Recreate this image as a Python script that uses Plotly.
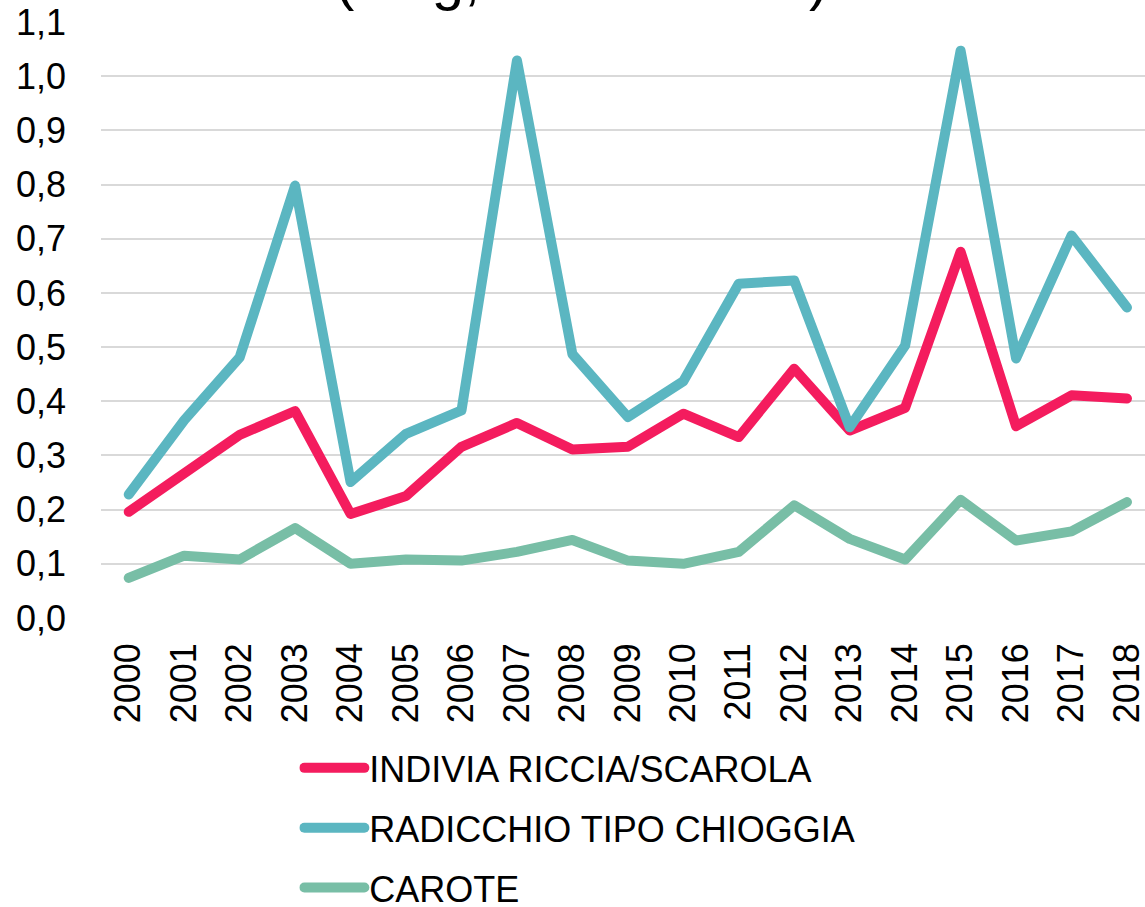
import plotly.graph_objects as go

years = [str(y) for y in range(2000, 2019)]
indivia = [0.196, 0.268, 0.338, 0.382, 0.192, 0.225, 0.316, 0.360, 0.311, 0.316,
           0.377, 0.334, 0.460, 0.346, 0.388, 0.676, 0.354, 0.411, 0.405]
radicchio = [0.228, 0.365, 0.481, 0.798, 0.251, 0.340, 0.383, 1.029, 0.487, 0.371,
             0.437, 0.617, 0.623, 0.352, 0.503, 1.047, 0.479, 0.706, 0.573]
carote = [0.074, 0.115, 0.108, 0.166, 0.100, 0.108, 0.106, 0.122, 0.144, 0.106,
          0.100, 0.122, 0.208, 0.146, 0.108, 0.218, 0.143, 0.160, 0.214]

series_names = ["INDIVIA RICCIA/SCAROLA", "RADICCHIO TIPO CHIOGGIA", "CAROTE"]
series_values = [indivia, radicchio, carote]
colors = ["#F41C5E", "#5BB6C1", "#78BEA6"]
title_text = "(€/kg, f.co azienda)"

FONT = "Liberation Sans"

fig = go.Figure()
for name, vals, col in zip(series_names, series_values, colors):
    fig.add_trace(go.Scatter(
        x=years, y=vals, name=name, mode="lines",
        line=dict(color=col, width=10),
        legendgroup=name,
    ))

fig.update_layout(
    width=1145, height=907,
    margin=dict(l=101, r=0, t=22, b=289, pad=0, autoexpand=False),
    paper_bgcolor="white", plot_bgcolor="white",
    separators=",.",
    font=dict(family=FONT, size=36, color="#000000"),
    showlegend=True,
    legend=dict(
        orientation="v", x=0.19, xanchor="left",
        y=-0.2013, yanchor="top",
        font=dict(family=FONT, size=36, color="#000000"),
        itemwidth=60, tracegroupgap=10,
        bgcolor="rgba(0,0,0,0)",
    ),
    xaxis=dict(
        type="category", range=[-0.5, 18.325],
        showgrid=False, zeroline=False, showline=False,
        tickangle=-90, ticks="", ticklabelstandoff=17,
        tickfont=dict(family=FONT, size=36, color="#000000"),
    ),
    yaxis=dict(
        range=[0, 1.1], dtick=0.1, tick0=0, tickformat=".1f",
        showgrid=True, gridcolor="#D9D9D9", gridwidth=2,
        zeroline=False, showline=False, ticks="", ticklabelstandoff=34,
        tickfont=dict(family=FONT, size=36, color="#000000"),
    ),
    annotations=[dict(
        text=title_text, xref="paper", yref="paper",
        x=0.46, y=1.015, xanchor="center", yanchor="bottom",
        showarrow=False, font=dict(family=FONT, size=58, color="#000000"),
    )],
)

post = """
document.body.style.margin='0';
document.body.style.overflow='hidden';
document.querySelectorAll('path.js-line').forEach(function(p){
  p.style.strokeLinejoin='round'; p.style.strokeLinecap='round';
});
"""
fig.write_html("out.html", config={"displayModeBar": False}, post_script=post)
